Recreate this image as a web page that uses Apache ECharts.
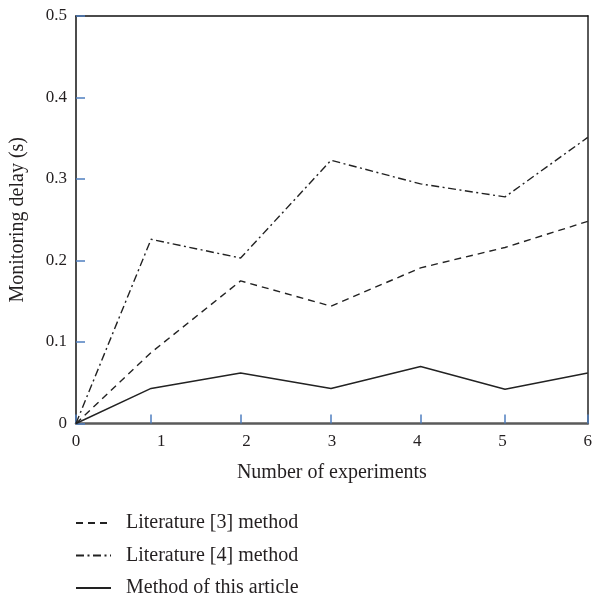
<!DOCTYPE html>
<html><head><meta charset="utf-8">
<script src="https://cdn.jsdelivr.net/npm/echarts@6/dist/echarts.min.js"></script>
<style>html,body{margin:0;padding:0;background:#fff}#c{width:595px;height:599px}</style>
</head><body><div id="c"></div>
<script>
// x positions of the experiment points (as drawn, aligned with the tick marks)
const xPositions = [0, 0.88, 1.93, 2.99, 4.04, 5.03, 6];
const xTickLabels = [0, 1, 2, 3, 4, 5, 6];
const yTickLabels = [0, 0.1, 0.2, 0.3, 0.4, 0.5];
const seriesNames = ['Literature [3] method', 'Literature [4] method', 'Method of this article'];
const lit3 = [0, 0.087, 0.175, 0.144, 0.191, 0.216, 0.248];
const lit4 = [0, 0.226, 0.203, 0.323, 0.294, 0.278, 0.351];
const ours = [0, 0.043, 0.062, 0.043, 0.070, 0.042, 0.062];

const font = 'Liberation Serif, Times New Roman, serif';
const txt = '#231f20';
const tickBlue = '#4f7fc0';
const pair = (ys) => ys.map((y, i) => [xPositions[i], y]);

const chart = echarts.init(document.getElementById('c'), null, {renderer: 'canvas'});
chart.setOption({
  animation: false,
  backgroundColor: '#fff',
  grid: {left: 76, right: 5, top: 16, bottom: 175.5, containLabel: false},
  legend: {
    orient: 'vertical', left: 75, top: 513, padding: 0, height: 86,
    itemWidth: 35, itemHeight: 20, itemGap: 12.5,
    itemStyle: {color: 'rgba(0,0,0,0)', borderWidth: 0, opacity: 0},
    textStyle: {fontFamily: font, fontSize: 20, color: txt, lineHeight: 20, padding: [0, 0, 0, 10]},
    data: seriesNames
  },
  xAxis: [{
    type: 'value', min: 0, max: 6, interval: 1,
    name: 'Number of experiments', nameLocation: 'middle', nameGap: 39,
    nameTextStyle: {fontFamily: font, fontSize: 20, color: txt},
    axisLine: {show: true, onZero: false, lineStyle: {color: '#5a5a5a', width: 2.5}},
    axisTick: {show: true, inside: true, length: 9, lineStyle: {color: tickBlue, width: 1.5}, customValues: xPositions},
    axisLabel: {fontFamily: font, fontSize: 17, color: txt, margin: 10, customValues: xTickLabels},
    splitLine: {show: false}
  }, {
    type: 'value', position: 'top', min: 0, max: 6,
    axisLine: {show: true, onZero: false, lineStyle: {color: '#111', width: 1.5}},
    axisTick: {show: false}, axisLabel: {show: false}, splitLine: {show: false}
  }],
  yAxis: [{
    type: 'value', min: 0, max: 0.5, interval: 0.1,
    name: 'Monitoring delay (s)', nameLocation: 'middle', nameGap: 48,
    nameTextStyle: {fontFamily: font, fontSize: 20, color: txt},
    axisLine: {show: true, onZero: false, lineStyle: {color: '#111', width: 1.5}},
    axisTick: {show: true, inside: true, length: 9, lineStyle: {color: tickBlue, width: 1.5}},
    axisLabel: {fontFamily: font, fontSize: 17, color: txt, margin: 9,
      formatter: (v) => String(yTickLabels.find(t => Math.abs(t - v) < 1e-9) ?? v)},
    splitLine: {show: false}
  }, {
    type: 'value', position: 'right', min: 0, max: 0.5,
    axisLine: {show: true, onZero: false, lineStyle: {color: '#5a5a5a', width: 2}},
    axisTick: {show: false}, axisLabel: {show: false}, splitLine: {show: false}
  }],
  series: [
    {name: seriesNames[0], type: 'line', symbol: 'none', data: pair(lit3),
     lineStyle: {color: '#222', width: 1.4, type: [7, 5]}, itemStyle: {color: '#222'}},
    {name: seriesNames[1], type: 'line', symbol: 'none', data: pair(lit4),
     lineStyle: {color: '#222', width: 1.4, type: [8, 3.5, 2, 3.5]}, itemStyle: {color: '#222'}},
    {name: seriesNames[2], type: 'line', symbol: 'none', data: pair(ours),
     lineStyle: {color: '#222', width: 1.4, type: 'solid'}, itemStyle: {color: '#222'}}
  ]
});
</script></body></html>
